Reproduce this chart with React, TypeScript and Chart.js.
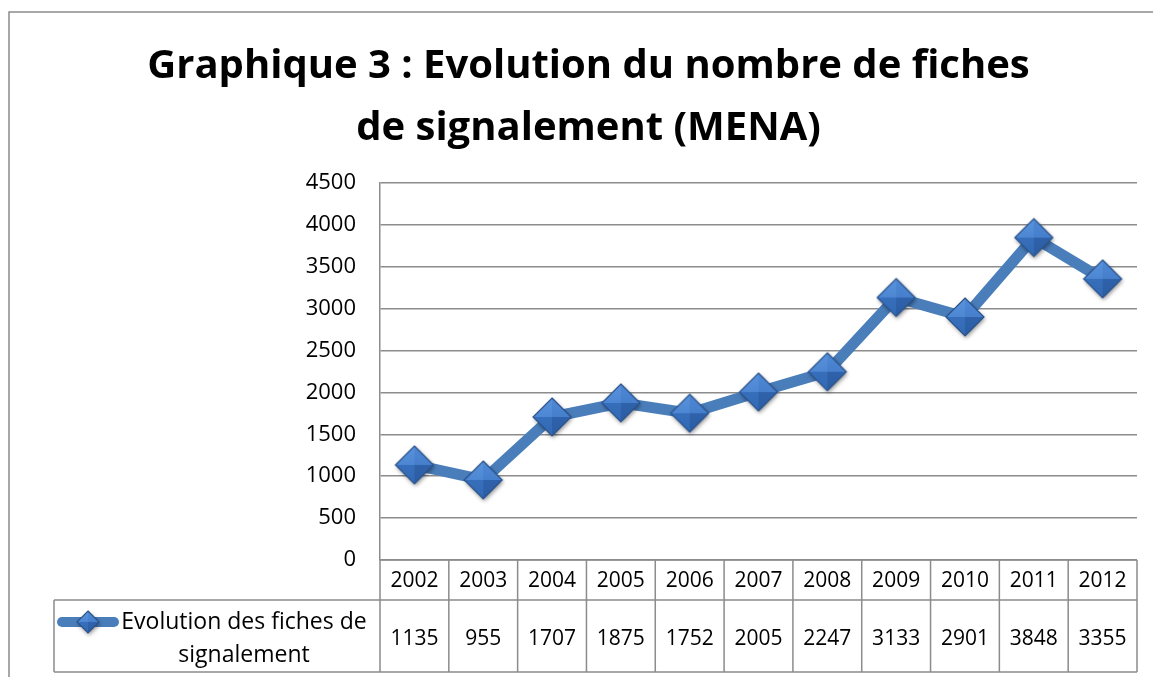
import React, { useEffect, useRef } from "react";
import { Chart, registerables } from "chart.js";

Chart.register(...registerables);

const titleLines = ["Graphique 3 : Evolution du nombre de fiches", "de signalement (MENA)"];
const years = ["2002", "2003", "2004", "2005", "2006", "2007", "2008", "2009", "2010", "2011", "2012"];
const values = [1135, 955, 1707, 1875, 1752, 2005, 2247, 3133, 2901, 3848, 3355];
const seriesLabelLines = ["Evolution des fiches de", "signalement"];
const yMin = 0;
const yMax = 4500;
const yStep = 500;

const FONT = "'Open Sans', Lato, sans-serif";
const LINE_COLOR = "#4a7ebb";
const GRID_COLOR = "#8c8c8c";

function makeMarker(half: number): HTMLCanvasElement {
  const pad = 5;
  const size = Math.ceil(half * 2 + pad * 2);
  const c = document.createElement("canvas");
  c.width = size;
  c.height = size;
  const g = c.getContext("2d")!;
  const cx = size / 2;
  const cy = size / 2;
  g.save();
  g.shadowColor = "rgba(0,0,0,0.45)";
  g.shadowBlur = 4;
  g.shadowOffsetX = 1;
  g.shadowOffsetY = 2;
  g.beginPath();
  g.moveTo(cx, cy - half);
  g.lineTo(cx + half, cy);
  g.lineTo(cx, cy + half);
  g.lineTo(cx - half, cy);
  g.closePath();
  g.fillStyle = "#3a72bd";
  g.fill();
  g.restore();
  const facets: [number, number, number, number, string, string][] = [
    [cx - half, cy, cx, cy - half, "#5a93dc", "#4079c8"],
    [cx, cy - half, cx + half, cy, "#4f89d6", "#3c74c0"],
    [cx + half, cy, cx, cy + half, "#3368b3", "#2c5da3"],
    [cx, cy + half, cx - half, cy, "#3d75c2", "#3169b5"],
  ];
  for (const [x1, y1, x2, y2, c1, c2] of facets) {
    const grad = g.createLinearGradient(cx, cy - half, cx, cy + half);
    grad.addColorStop(0, c1);
    grad.addColorStop(1, c2);
    g.beginPath();
    g.moveTo(x1, y1);
    g.lineTo(x2, y2);
    g.lineTo(cx, cy);
    g.closePath();
    g.fillStyle = grad;
    g.fill();
  }
  g.beginPath();
  g.moveTo(cx, cy - half);
  g.lineTo(cx + half, cy);
  g.lineTo(cx, cy + half);
  g.lineTo(cx - half, cy);
  g.closePath();
  g.strokeStyle = "#2b5289";
  g.lineWidth = 1.2;
  g.stroke();
  return c;
}

const frameAndTablePlugin = {
  id: "frameAndTable",
  beforeDraw(chart: any) {
    const ctx = chart.ctx;
    ctx.save();
    ctx.fillStyle = "#ffffff";
    ctx.fillRect(0, 0, chart.width, chart.height);
    ctx.strokeStyle = GRID_COLOR;
    ctx.lineWidth = 1.5;
    ctx.beginPath();
    ctx.moveTo(9, chart.height + 5);
    ctx.lineTo(9, 12);
    ctx.lineTo(chart.width + 5, 12);
    ctx.stroke();
    ctx.restore();
  },
  afterDraw(chart: any) {
    const ctx = chart.ctx;
    const x = chart.scales.x;
    const y = chart.scales.y;
    const area = chart.chartArea;
    const n = years.length;
    const colW = (area.right - area.left) / n;
    const top = y.getPixelForValue(yMin);
    const rowH1 = 40;
    const rowH2 = 72;
    const mid = top + rowH1;
    const bottom = mid + rowH2;
    const legendLeft = 54;
    ctx.save();
    ctx.strokeStyle = GRID_COLOR;
    ctx.lineWidth = 1.5;
    ctx.beginPath();
    ctx.moveTo(area.left, top);
    ctx.lineTo(area.right, top);
    ctx.moveTo(legendLeft, mid);
    ctx.lineTo(area.right, mid);
    ctx.moveTo(legendLeft, bottom);
    ctx.lineTo(area.right, bottom);
    ctx.moveTo(legendLeft, mid);
    ctx.lineTo(legendLeft, bottom);
    for (let i = 0; i <= n; i++) {
      const cx = i < n ? x.getPixelForValue(i) - colW / 2 : x.getPixelForValue(n - 1) + colW / 2;
      ctx.moveTo(cx, top);
      ctx.lineTo(cx, bottom);
    }
    ctx.stroke();

    ctx.fillStyle = "#000";
    ctx.font = `21px ${FONT}`;
    ctx.textAlign = "center";
    ctx.textBaseline = "middle";
    for (let i = 0; i < n; i++) {
      const cx = x.getPixelForValue(i);
      ctx.fillText(years[i], cx, top + rowH1 / 2 + 1);
      ctx.fillText(String(values[i]), cx, mid + rowH2 / 2 + 3);
    }
    ctx.font = `23px ${FONT}`;
    const textCx = 244;
    ctx.fillText(seriesLabelLines[0], textCx, mid + 22);
    ctx.fillText(seriesLabelLines[1], textCx, mid + 55);
    const ky = mid + 22;
    ctx.strokeStyle = LINE_COLOR;
    ctx.lineWidth = 10;
    ctx.lineCap = "round";
    ctx.beginPath();
    ctx.moveTo(62, ky);
    ctx.lineTo(114, ky);
    ctx.stroke();
    const km = chart.$legendMarker as HTMLCanvasElement;
    if (km) ctx.drawImage(km, 88 - km.width / 2, ky - km.height / 2);
    ctx.restore();
  },
};

export default function App() {
  const ref = useRef<HTMLCanvasElement>(null);
  useEffect(() => {
    if (!ref.current) return;
    const marker = makeMarker(19);
    const legendMarker = makeMarker(11);
    const chart = new Chart(ref.current, {
      type: "line",
      data: {
        labels: years,
        datasets: [
          {
            label: seriesLabelLines.join(" "),
            data: values,
            borderColor: LINE_COLOR,
            backgroundColor: LINE_COLOR,
            borderWidth: 11,
            tension: 0,
            pointStyle: marker as any,
            pointRadius: 19,
            borderJoinStyle: "round",
          },
        ],
      },
      options: {
        animation: false,
        responsive: false,
        events: [],
        layout: { autoPadding: false, padding: { left: 40, right: 16, top: 26, bottom: 117 } },
        plugins: {
          legend: { display: false },
          tooltip: { enabled: false },
          title: {
            display: true,
            text: titleLines,
            color: "#000",
            font: { family: FONT, size: 40, weight: "bold", lineHeight: 1.55 },
            padding: { top: 10, bottom: 23 },
          },
        },
        scales: {
          x: { type: "category", offset: true, display: false },
          y: {
            min: yMin,
            max: yMax,
            afterFit: (s: any) => {
              s.width = 340;
            },
            ticks: {
              stepSize: yStep,
              color: "#000",
              font: { family: FONT, size: 22 },
              padding: 24,
              callback: (v: any) => String(v),
            },
            grid: { color: GRID_COLOR, lineWidth: 1.5, drawTicks: false },
            border: { display: true, color: GRID_COLOR, width: 1.5 },
          },
        },
      },
      plugins: [frameAndTablePlugin],
    } as any);
    (chart as any).$legendMarker = legendMarker;
    chart.draw();
    return () => chart.destroy();
  }, []);
  return (
    <div style={{ position: "fixed", left: 0, top: 0, width: 1153, height: 677, background: "#fff" }}>
      <canvas ref={ref} width={1153} height={677} style={{ display: "block" }} />
    </div>
  );
}
